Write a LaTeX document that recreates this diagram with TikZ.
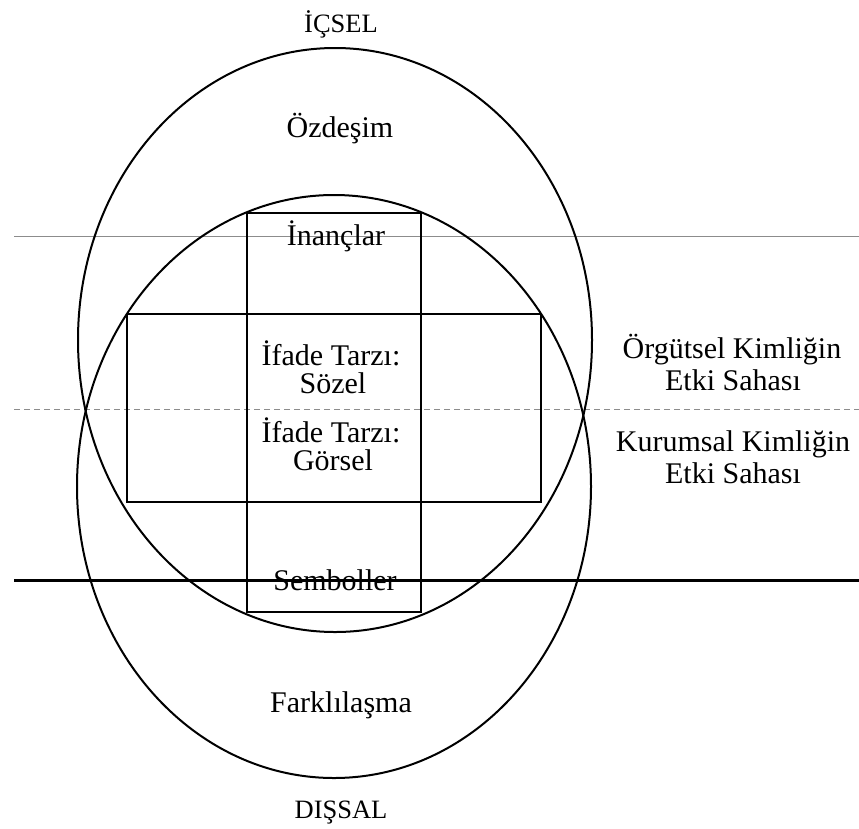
\documentclass[tikz,border=0pt]{standalone}
\usepackage{fontspec}
\setmainfont{Liberation Serif}
\begin{document}
\begin{tikzpicture}[x=1pt,y=-1pt,
  curve/.style={draw=black,line width=2pt},
  frame/.style={draw=black,line width=2.5pt},
  lbl/.style={inner sep=0pt,anchor=base,font=\fontsize{30}{30}\selectfont},
  pole/.style={inner sep=0pt,anchor=base,font=\fontsize{26.5}{28}\selectfont},
  level/.style={draw=black!45,line width=0.8pt}]
\useasboundingbox (0,0) rectangle (859,828);
\fill[white] (0,0) rectangle (859,828);

% horizontal level lines
\coordinate (g1) at (14,236);   \coordinate (g2) at (859,236);
\coordinate (d1) at (14,409);   \coordinate (d2) at (859,409);
\coordinate (b1) at (14,580);   \coordinate (b2) at (859,580);
\draw[level] (g1) -- (g2);
\draw[level,dash pattern=on 6pt off 4pt] (d1) -- (d2);

% two overlapping ellipses
\draw[curve] (335,340) ellipse [x radius=257, y radius=292];
\draw[curve] (334,486.5) ellipse [x radius=257, y radius=291.5];

% cross made of two rectangles
\draw[frame] (247,213) rectangle (421,612);
\draw[frame] (127,314) rectangle (541,502);

\draw[black,line width=3pt] (b1) -- (b2);

% labels
\node[pole] (icsel) at (341,32) {İÇSEL};
\node[lbl] (ozdesim) at (340,137) {Özdeşim};
\node[lbl] (inanc) at (336,245) {İnançlar};
\node[lbl] (sozel1) at (331,365) {İfade Tarzı:};
\node[lbl] (sozel2) at (333,393) {Sözel};
\node[lbl] (gorsel1) at (331,442) {İfade Tarzı:};
\node[lbl] (gorsel2) at (333,470) {Görsel};
\node[lbl] (sembol) at (335,590) {Semboller};
\node[lbl] (fark) at (341,712) {Farklılaşma};
\node[pole] (dissal) at (341,818) {DIŞSAL};
\node[lbl] (orgut1) at (732,358) {Örgütsel Kimliğin};
\node[lbl] (orgut2) at (733,390) {Etki Sahası};
\node[lbl] (kurum1) at (733,451) {Kurumsal Kimliğin};
\node[lbl] (kurum2) at (733,483) {Etki Sahası};
\end{tikzpicture}
\end{document}
